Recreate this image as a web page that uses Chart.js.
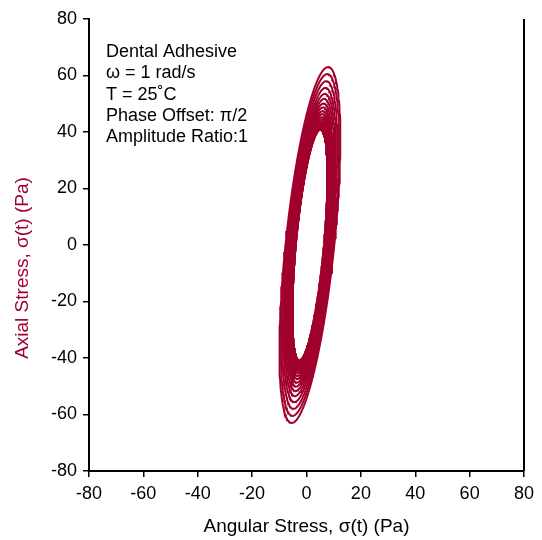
<!DOCTYPE html>
<html>
<head>
<meta charset="utf-8">
<script src="https://cdn.jsdelivr.net/npm/chart.js@4"></script>
<style>
  html, body { margin: 0; padding: 0; background: #fff; }
  #wrap { width: 542px; height: 540px; }
</style>
</head>
<body>
<div id="wrap"><canvas id="grafico" width="542" height="540"></canvas></div>
<script>
// Amplitudes de cada laço (do maior para o menor)
const axialAmp = [63, 60.5, 58, 55.6, 53.5, 51.7, 50.1, 48.7, 47.4, 46.3, 45.3, 44.5, 43.8, 43.2, 42.7, 42.3, 41.9, 41.6, 41.4, 41.2, 41.0, 40.9, 40.8];
const angularAmp = [11.2, 10.7, 10.1, 9.6, 9.2, 8.8, 8.4, 8.1, 7.9, 7.6, 7.4, 7.2, 7.1, 7.0, 6.9, 6.8, 6.7, 6.6, 6.6, 6.5, 6.5, 6.5, 6.5];
const phaseLag = 0.93;      // rad, defasagem aparente entre as tensões
const angularOffset = 1.25; // Pa
const xTicks = [-80, -60, -40, -20, 0, 20, 40, 60, 80];
const yTicks = [-80, -60, -40, -20, 0, 20, 40, 60, 80];
const infoLines = ['Dental Adhesive', 'ω = 1 rad/s', 'T = 25˚C', 'Phase Offset: π/2', 'Amplitude Ratio:1'];
const xTitle = 'Angular Stress, σ(t) (Pa)';
const yTitle = 'Axial Stress, σ(t) (Pa)';

const corCurva = '#a0002d';
const fonte = '"Liberation Sans", Arial, sans-serif';

// Montar um laço (Lissajous) para cada par de amplitudes
function montarLaco(ay, ax) {
    const pontos = [];
    const passos = 160;
    for (let i = 0; i <= passos; i++) {
        const t = (i / passos) * 2 * Math.PI;
        pontos.push({ x: angularOffset + ax * Math.sin(t + phaseLag), y: ay * Math.sin(t) });
    }
    return pontos;
}

const datasets = axialAmp.map((ay, i) => ({
    data: montarLaco(ay, angularAmp[i]),
    showLine: true,
    borderColor: corCurva,
    borderWidth: 2,
    pointRadius: 0,
    fill: false
}));

// Texto informativo, títulos dos eixos e borda direita
const extras = {
    id: 'extras',
    afterDraw(chart) {
        const ctx = chart.ctx;
        const area = chart.chartArea;
        ctx.save();
        ctx.strokeStyle = '#000';
        ctx.lineWidth = 2;
        ctx.beginPath();
        ctx.moveTo(area.right, area.top);
        ctx.lineTo(area.right, area.bottom);
        ctx.stroke();

        ctx.fillStyle = '#000';
        ctx.font = '18px ' + fonte;
        ctx.textBaseline = 'middle';
        infoLines.forEach((linha, i) => {
            ctx.fillText(linha, 106, 52 + i * 21.3);
        });

        ctx.font = '19px ' + fonte;
        ctx.textAlign = 'center';
        ctx.fillText(xTitle, (area.left + area.right) / 2, 527);

        ctx.fillStyle = corCurva;
        ctx.translate(23, 268);
        ctx.rotate(-Math.PI / 2);
        ctx.fillText(yTitle, 0, 0);
        ctx.restore();
    }
};

new Chart(document.getElementById('grafico'), {
    type: 'scatter',
    data: { datasets },
    options: {
        responsive: false,
        animation: false,
        layout: { padding: { top: 19, right: 18, left: 0, bottom: 0 } },
        plugins: { legend: { display: false }, tooltip: { enabled: false } },
        scales: {
            x: {
                min: -80, max: 80,
                afterBuildTicks: s => { s.ticks = xTicks.map(v => ({ value: v })); },
                afterFit: s => { s.height = 69; },
                grid: { drawOnChartArea: false, drawTicks: true, tickLength: 6, color: '#000', lineWidth: 1.5 },
                border: { display: true, color: '#000', width: 2 },
                ticks: { color: '#000', font: { family: fonte, size: 18 }, padding: 6, maxRotation: 0 }
            },
            y: {
                min: -80, max: 80,
                afterBuildTicks: s => { s.ticks = yTicks.map(v => ({ value: v })); },
                afterFit: s => { s.width = 89; },
                grid: { drawOnChartArea: false, drawTicks: true, tickLength: 6, color: '#000', lineWidth: 1.5 },
                border: { display: true, color: '#000', width: 2 },
                ticks: { color: '#000', font: { family: fonte, size: 18 }, padding: 6 }
            }
        }
    },
    plugins: [extras]
});
</script>
</body>
</html>
